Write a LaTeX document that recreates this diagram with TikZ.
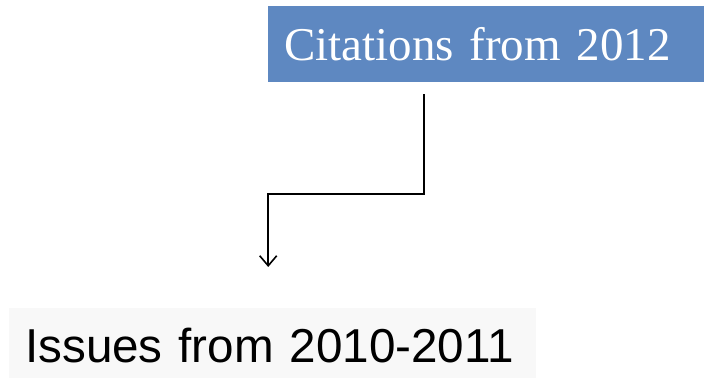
\documentclass[tikz,border=0pt]{standalone}
\usepackage{fontspec}
\newfontfamily\serifTNR{Liberation Serif}
\newfontfamily\sansArial{Liberation Sans}
\usetikzlibrary{arrows.meta}
\definecolor{boxblue}{HTML}{5E88C1}
\definecolor{boxgray}{HTML}{F8F8F8}
\tikzset{
  topbox/.style={fill=boxblue, text=white, anchor=north west, inner ysep=0pt, inner xsep=16pt,
    text width=404pt, align=left, minimum height=76pt, font=\serifTNR\fontsize{47}{56}\selectfont},
  botbox/.style={fill=boxgray, text=black, anchor=north west, inner ysep=0pt, inner xsep=16pt,
    text width=495pt, align=left, minimum height=70pt, text height=38pt, text depth=0pt,
    font=\sansArial\fontsize{47.6}{56}\selectfont},
  conn/.style={line width=1.8pt, draw=black, -{Straight Barb[length=10pt,width=17pt,line width=1.6pt]}}
}
\begin{document}
\begin{tikzpicture}[x=1pt,y=1pt]
\useasboundingbox (0,0) rectangle (706,379);
\node[topbox] (cit) at (268,373) {\mbox{Citations from 2012}};
\node[botbox] (iss) at (9,71) {\mbox{Issues from 2010-2011}};
\draw[conn] ([xshift=-62pt,yshift=-12pt]cit.south) -- ++(0,-100pt) -| ([xshift=-4.5pt,yshift=41pt]iss.north);
\end{tikzpicture}
\end{document}
